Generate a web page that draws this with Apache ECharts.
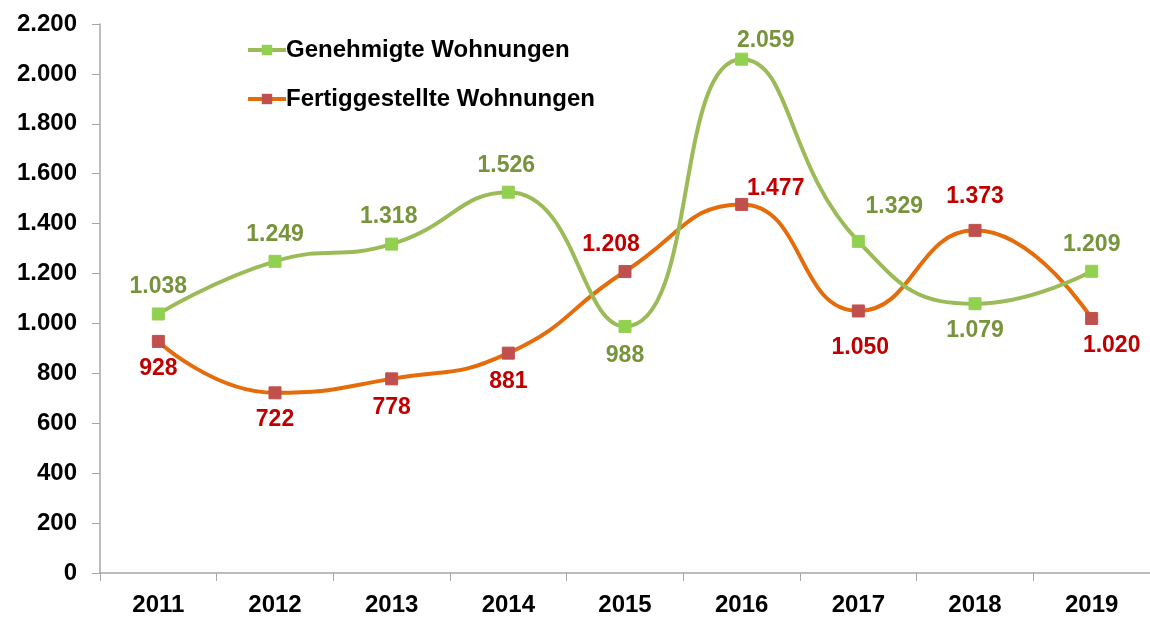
<!DOCTYPE html>
<html>
<head>
<meta charset="utf-8">
<script src="https://cdn.jsdelivr.net/npm/echarts@6/dist/echarts.min.js"></script>
<style>html,body{margin:0;padding:0;background:#fff}#c{width:1150px;height:617px}</style>
</head>
<body>
<div id="c"></div>
<script>
var years = ['2011','2012','2013','2014','2015','2016','2017','2018','2019'];
var genehmigt = [1038, 1249, 1318, 1526, 988, 2059, 1329, 1079, 1209];
var fertig = [928, 722, 778, 881, 1208, 1477, 1050, 1373, 1020];
var seriesNames = ['Genehmigte Wohnungen', 'Fertiggestellte Wohnungen'];

// label placement (style only)
var greenPos = [['top',[0,0]],['top',[0,0]],['top',[-3,0]],['top',[-2,0]],['bottom',[0,2]],['top',[24,8]],['top',[36,-8]],['bottom',[0,0]],['top',[0,0]]];
var redPos = [['bottom',[0,0]],['bottom',[0,0]],['bottom',[0,2]],['bottom',[0,2]],['top',[-14,0]],['top',[34,11]],['bottom',[2,10]],['top',[0,-7]],['bottom',[20,0]]];

function fmt(v){ return String(v).replace(/\B(?=(\d{3})+(?!\d))/g, '.'); }
var FONT = '"Liberation Sans", Arial, sans-serif';

function buildData(vals, pos){
  return vals.map(function(v,i){
    return {value: v, label: {position: pos[i][0], offset: pos[i][1]}};
  });
}

var chart = echarts.init(document.getElementById('c'));
chart.setOption({
  animation: false,
  backgroundColor: '#fff',
  textStyle: {fontFamily: FONT},
  legend: {
    orient: 'vertical',
    left: 241, top: 33,
    itemGap: 25,
    itemWidth: 38, itemHeight: 13,
    lineStyle: {width: 4},
    textStyle: {fontFamily: FONT, fontSize: 24, fontWeight: 'bold', color: '#000', padding: [0,0,0,-5]},
    data: seriesNames
  },
  grid: {left: 100, top: 24, width: 1057, height: 550, containLabel: false},
  xAxis: {
    type: 'category',
    data: years,
    boundaryGap: true,
    axisLine: {lineStyle: {color: '#A6A6A6', width: 1.5}},
    axisTick: {show: true, length: 8, lineStyle: {color: '#A6A6A6'}},
    axisLabel: {fontFamily: FONT, fontSize: 24, fontWeight: 'bold', color: '#000', margin: 20},
    splitLine: {show: false}
  },
  yAxis: {
    type: 'value',
    min: 0, max: 2200, interval: 200,
    axisLine: {show: true, lineStyle: {color: '#A6A6A6', width: 1.5}},
    axisTick: {show: true, length: 8, lineStyle: {color: '#A6A6A6'}},
    axisLabel: {fontFamily: FONT, fontSize: 24, fontWeight: 'bold', color: '#000', margin: 23, formatter: fmt},
    splitLine: {show: false}
  },
  series: [
    {
      name: seriesNames[0], type: 'line', smooth: 0.5,
      data: buildData(genehmigt, greenPos),
      symbol: 'rect', symbolSize: 12,
      lineStyle: {color: '#9BBB59', width: 4},
      itemStyle: {color: '#92D050', borderColor: '#92D050'},
      label: {show: true, fontFamily: FONT, fontSize: 23, fontWeight: 'bold', color: '#77933C', distance: 9, formatter: function(p){return fmt(p.value);}},
      z: 3
    },
    {
      name: seriesNames[1], type: 'line', smooth: 0.5,
      data: buildData(fertig, redPos),
      symbol: 'rect', symbolSize: 12,
      lineStyle: {color: '#E46C0A', width: 4},
      itemStyle: {color: '#C0504D', borderColor: '#C0504D'},
      label: {show: true, fontFamily: FONT, fontSize: 23, fontWeight: 'bold', color: '#C00000', distance: 9, formatter: function(p){return fmt(p.value);}},
      z: 2
    }
  ]
});
</script>
</body>
</html>
